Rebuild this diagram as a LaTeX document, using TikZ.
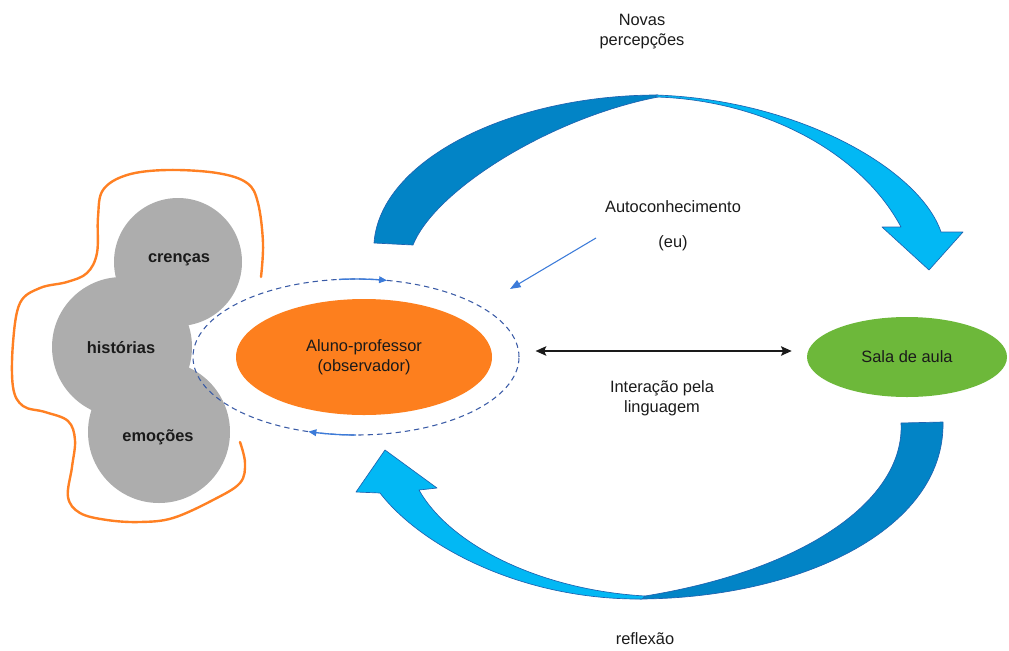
\documentclass[tikz,border=0pt]{standalone}
\usepackage{fontspec}
\setmainfont{Liberation Sans}
\usetikzlibrary{shapes.geometric,arrows.meta,calc}
\definecolor{txt}{HTML}{1A1A1A}
\definecolor{grayA}{HTML}{ADADAD}
\definecolor{orangeA}{HTML}{FD7F1E}
\definecolor{greenA}{HTML}{6DB83A}
\definecolor{blueDark}{HTML}{0284C6}
\definecolor{blueLight}{HTML}{02B8F4}
\definecolor{blueEdge}{HTML}{1F63B0}
\definecolor{dashBlue}{HTML}{3A5BA6}
\definecolor{arrowBlue}{HTML}{3C7BD9}
\definecolor{contourC}{HTML}{FF8023}
\begin{document}
\begin{tikzpicture}[x=0.75pt,y=-0.75pt,
  font=\fontsize{12.3}{15}\selectfont, text=txt,
  bubble/.style={circle, fill=grayA, inner sep=0pt, font=\fontsize{12.3}{15}\selectfont\bfseries},
  lbl/.style={align=center, inner sep=0pt},
  contourline/.style={draw=contourC, line width=1.8pt, line cap=round},
  ribbon/.style={draw=blueEdge, line width=0.5pt, line join=round},
  dbl/.style={draw=txt, line width=1.5pt, {Stealth[length=8pt,width=7pt,inset=1.5pt]}-{Stealth[length=8pt,width=7pt,inset=1.5pt]}},
  thinarrow/.style={draw=arrowBlue, line width=0.8pt, -{Triangle[length=8pt,width=6pt]}},
  orbit/.style={draw=arrowBlue, line width=1pt, -{Triangle[length=6pt,width=5pt]}}
]
\useasboundingbox (0,0) rectangle (1009,650);

% gray bubbles
\node[bubble, minimum size=96pt] (cren) at (178,262) {};
\node[bubble, minimum size=105pt] (hist) at (122,347) {};
\node[bubble, minimum size=106.5pt] (emoc) at (159,432) {};
\node[lbl, font=\fontsize{12.3}{15}\selectfont\bfseries] at (179,260) {crenças};
\node[lbl, font=\fontsize{12.3}{15}\selectfont\bfseries] at (121,348) {histórias};
\node[lbl, font=\fontsize{12.3}{15}\selectfont\bfseries] at (158,437) {emoções};

% orange contour
\draw[contourline] plot[smooth, tension=0.6] coordinates {(261,277) (263,243) (258,203) (247,183) (217,173) (167,170) (127,175) (103,190) (98,217) (97,253) (87,273) (67,282) (40,288) (20,303) (13,343) (13,387) (23,406) (45,412) (68,421) (75,440) (72,467) (68,497) (80,513) (107,520) (140,522) (173,518) (213,500) (240,483) (245,463) (240,442)};

% dashed orbit
\node[ellipse, draw=dashBlue, dashed, dash pattern=on 4pt off 3pt, line width=0.8pt,
      minimum width=244.5pt, minimum height=117pt, inner sep=0pt] (obs) at (356,357) {};
\draw[orbit] plot[domain=264:281, samples=20] ({356+163*cos(\x)}, {357+78*sin(\x)});
\draw[orbit] plot[domain=90:107, samples=20] ({356+163*cos(\x)}, {357+78*sin(\x)});

% main ellipses
\node[ellipse, fill=orangeA, minimum width=192pt, minimum height=87pt, inner sep=0pt,
      align=center] (alu) at (364,357) {Aluno-professor\\(observador)};
\node[ellipse, fill=greenA, minimum width=150pt, minimum height=60pt, inner sep=0pt] (sala) at (907,357) {Sala de aula};

% double arrow
\draw[dbl] ($(obs.east)+(16,-6)$) -- ($(sala.west)+(-15,-6)$);

% labels
\node[lbl] (nov) at (642,32) {Novas\\percepções};
\node[lbl] (auto) at (673,207) {Autoconhecimento};
\node[lbl] (eu) at (673,243) {(eu)};
\node[lbl] (inter) at (662,398) {Interação pela\\linguagem};
\node[lbl] (refl) at (645,639) {reflexão};

% thin arrow
\coordinate (ta) at (596,238);
\coordinate (tb) at (510,289);
\draw[thinarrow] (ta) -- (tb);

% top curved arrow
\fill[blueDark, ribbon] (374,243) .. controls (380,160) and (510,95) .. (658,95)
   -- (658,97) .. controls (550,118) and (435,190) .. (413,245) -- cycle;
\fill[blueLight, ribbon] (656,95) .. controls (800,100) and (920,170) .. (941,232)
   -- (963,232) -- (929,270) -- (882,227) -- (901,227)
   .. controls (860,150) and (760,100) .. (656,97) -- cycle;

% bottom curved arrow
\fill[blueDark, ribbon] (943,422) .. controls (945,530) and (800,598) .. (640,599)
   -- (645,596) .. controls (805,570) and (905,500) .. (901,423) -- cycle;
\fill[blueLight, ribbon] (642,599) .. controls (520,600) and (420,545) .. (380,493)
   -- (356,492) -- (385,450) -- (437,488) -- (419,490)
   .. controls (450,545) and (540,590) .. (645,596) -- cycle;
\end{tikzpicture}
\end{document}
